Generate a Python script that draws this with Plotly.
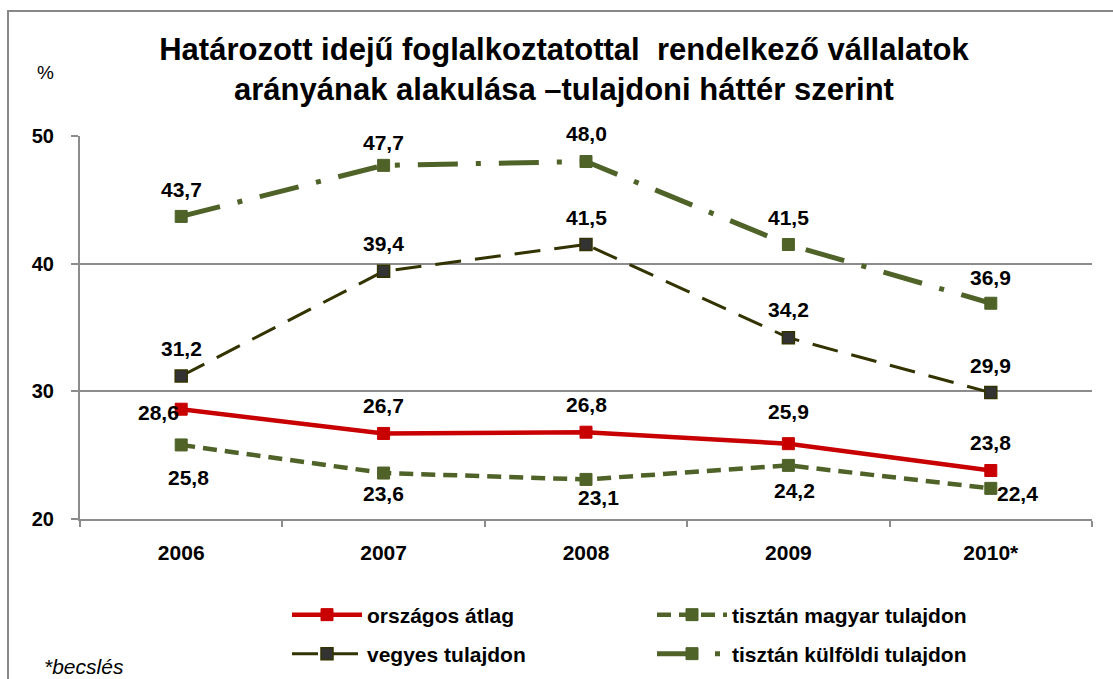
import plotly.graph_objects as go

# --- data -------------------------------------------------------------
years = ["2006", "2007", "2008", "2009", "2010*"]

orszagos = [28.6, 26.7, 26.8, 25.9, 23.8]
magyar = [25.8, 23.6, 23.1, 24.2, 22.4]
vegyes = [31.2, 39.4, 41.5, 34.2, 29.9]
kulfoldi = [43.7, 47.7, 48.0, 41.5, 36.9]

names = ["országos átlag", "tisztán magyar tulajdon",
         "vegyes tulajdon", "tisztán külföldi tulajdon"]

title_text = ("Határozott idejű foglalkoztatottal  rendelkező vállalatok<br>"
              "arányának alakulása –tulajdoni háttér szerint")

# --- styling ----------------------------------------------------------
FONT = "Liberation Sans, Arial, sans-serif"
RED = "#C80000"
GREEN = "#4F6228"
OLIVE_DARK = "#333300"
GRID = "#8C8C8C"

W, H = 1113, 679
M_L, M_R, M_T, M_B = 80, 21, 136, 160
PW = W - M_L - M_R
PH = H - M_T - M_B

series = [
    dict(y=orszagos, name=names[0], legend="legend",
         line=dict(color=RED, width=4.5),
         marker=dict(color=RED, size=12, symbol="square", line=dict(color=RED, width=1))),
    dict(y=magyar, name=names[1], legend="legend",
         line=dict(color=GREEN, width=4.5, dash="14px,8px"),
         marker=dict(color=GREEN, size=12, symbol="square", line=dict(color=GREEN, width=1))),
    dict(y=vegyes, name=names[2], legend="legend2",
         line=dict(color=OLIVE_DARK, width=3, dash="26px,14px"),
         marker=dict(color="#333333", size=12, symbol="square",
                     line=dict(color=OLIVE_DARK, width=1.5))),
    dict(y=kulfoldi, name=names[3], legend="legend2",
         line=dict(color=GREEN, width=5, dash="40px,18px,5px,18px"),
         marker=dict(color=GREEN, size=12, symbol="square", line=dict(color=GREEN, width=1))),
]

fig = go.Figure()
for s in series:
    fig.add_trace(go.Scatter(x=years, y=s["y"], name=s["name"], mode="lines+markers",
                             line=s["line"], marker=s["marker"], legend=s["legend"],
                             hoverinfo="skip"))

# value labels: pixel offsets of each label from its point
label_shift = {
    0: [(-23, -3), (0, 28), (0, 28), (0, 32), (0, 28)],
    1: [(7, -33), (0, -20), (12, -18), (6, -25), (27, -5)],
    2: [(0, 28), (0, 28), (0, 27), (0, 28), (0, 27)],
    3: [(0, 27), (0, 23), (0, 28), (0, 27), (0, 26)],
}
for i, s in enumerate(series):
    for j, v in enumerate(s["y"]):
        dx, dy = label_shift[i][j]
        # category index as x position
        fig.add_annotation(x=j, y=v, text=f"{v:.1f}".replace(".", ","),
                           showarrow=False, xshift=dx, yshift=dy,
                           font=dict(family=FONT, size=21, color="black", weight="bold"))

# axis unit and footnote
fig.add_annotation(xref="paper", yref="paper", x=(45 - M_L) / PW, y=(H - M_B - 73) / PH,
                   text="%", showarrow=False, xanchor="center", yanchor="middle",
                   font=dict(family=FONT, size=19, color="black"))
fig.add_annotation(xref="paper", yref="paper", x=(42 - M_L) / PW, y=(H - M_B - 666) / PH,
                   text="<i>*becslés</i>", showarrow=False, xanchor="left", yanchor="middle",
                   font=dict(family=FONT, size=21, color="black"))

# chart frame
fig.add_shape(type="rect", xref="paper", yref="paper", layer="below",
              x0=(8 - M_L) / PW, x1=(1125 - M_L) / PW,
              y0=(H - M_B - 700) / PH, y1=(H - M_B - 11) / PH,
              line=dict(color="#888888", width=2), fillcolor="rgba(0,0,0,0)")

legend_common = dict(orientation="h", xanchor="left", yanchor="middle",
                     font=dict(family=FONT, size=21, color="black", weight="bold"),
                     itemwidth=70, entrywidth=280, bgcolor="rgba(0,0,0,0)",
                     itemclick=False, itemdoubleclick=False)

fig.update_layout(
    width=W, height=H,
    margin=dict(l=M_L, r=M_R, t=M_T, b=M_B, autoexpand=False),
    paper_bgcolor="white", plot_bgcolor="white",
    font=dict(family=FONT, color="black"),
    title=dict(text=title_text, x=564 / W, xref="container", xanchor="center",
               y=1 - 60 / H, yref="container", yanchor="middle",
               font=dict(family=FONT, size=31, color="black", weight="bold")),
    xaxis=dict(type="category", range=[-0.5, 4.5], showgrid=False,
               showline=True, linecolor=GRID, linewidth=2,
               ticks="outside", tickson="boundaries", ticklen=6, tickcolor=GRID,
               tickwidth=2, ticklabelstandoff=14,
               tickfont=dict(family=FONT, size=21, color="black", weight="bold")),
    yaxis=dict(range=[20, 50], dtick=10, showgrid=True, gridcolor=GRID, gridwidth=2,
               showline=True, linecolor=GRID, linewidth=2, zeroline=False,
               ticks="outside", ticklen=7, tickcolor=GRID, tickwidth=2,
               ticklabelstandoff=13,
               tickfont=dict(family=FONT, size=20, color="black", weight="bold")),
    legend=dict(x=(287 - M_L) / PW, y=(H - M_B - 615) / PH, **legend_common),
    legend2=dict(x=(287 - M_L) / PW, y=(H - M_B - 654) / PH, **legend_common),
    showlegend=True,
)

fig.write_html("out.html")
